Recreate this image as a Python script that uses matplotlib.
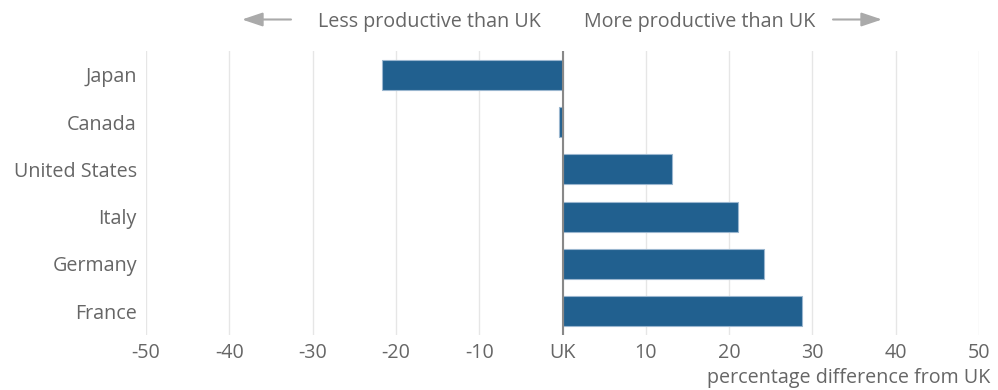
import matplotlib.pyplot as plt
import numpy as np

countries = ["Japan", "Canada", "United States", "Italy", "Germany", "France"]
diff = [-21.7, -0.4, 13.1, 21.1, 24.2, 28.8]
xticks = [-50, -40, -30, -20, -10, 0, 10, 20, 30, 40, 50]
xticklabels = ["-50", "-40", "-30", "-20", "-10", "UK", "10", "20", "30", "40", "50"]

plt.rcParams['font.family'] = ['Open Sans', 'DejaVu Sans']
txt = "#666666"
bar_col = "#21608f"
fs = 14.2

fig = plt.figure(figsize=(9.98, 3.9), dpi=100)
ax = fig.add_axes([146 / 998, 1 - 335 / 390, (979 - 146) / 998, (335 - 51) / 390])

y = np.arange(len(countries))
ax.barh(y, diff, height=0.64, color=bar_col, edgecolor="#9ab6cf", linewidth=0.8, zorder=3)
ax.set_ylim(len(countries) - 0.5, -0.5)
ax.set_xlim(-50, 50)
ax.set_xticks(xticks)
ax.set_xticklabels(xticklabels)
ax.set_yticks(y)
ax.set_yticklabels(countries)
ax.tick_params(length=0, labelsize=fs, labelcolor=txt)
ax.tick_params(axis="x", pad=6)
ax.tick_params(axis="y", pad=6.5)
ax.grid(axis="x", color="#e6e6e6", linewidth=1, zorder=0)
for s in ax.spines.values():
    s.set_visible(False)
ax.axvline(0, color="#888888", linewidth=1.5, zorder=4)

fig.text(990 / 998, 1 - 378 / 390, "percentage difference from UK", ha="right", va="center",
         fontsize=fs, color=txt)

# direction annotations at top
fig.text(541 / 998, 1 - 22 / 390, "Less productive than UK", ha="right", va="center",
         fontsize=fs, color=txt)
fig.text(584 / 998, 1 - 22 / 390, "More productive than UK", ha="left", va="center",
         fontsize=fs, color=txt)
arrow_kw = dict(arrowstyle="-|>,head_length=1.25,head_width=0.42", color="#aaaaaa",
                lw=1.5, mutation_scale=10, shrinkA=0, shrinkB=0)
ax.annotate("", xy=(242 / 998, 1 - 19.5 / 390), xytext=(291 / 998, 1 - 19.5 / 390),
            xycoords="figure fraction", textcoords="figure fraction", arrowprops=arrow_kw)
ax.annotate("", xy=(882 / 998, 1 - 19.5 / 390), xytext=(833 / 998, 1 - 19.5 / 390),
            xycoords="figure fraction", textcoords="figure fraction", arrowprops=arrow_kw)

fig.savefig("out.png", dpi=100)
